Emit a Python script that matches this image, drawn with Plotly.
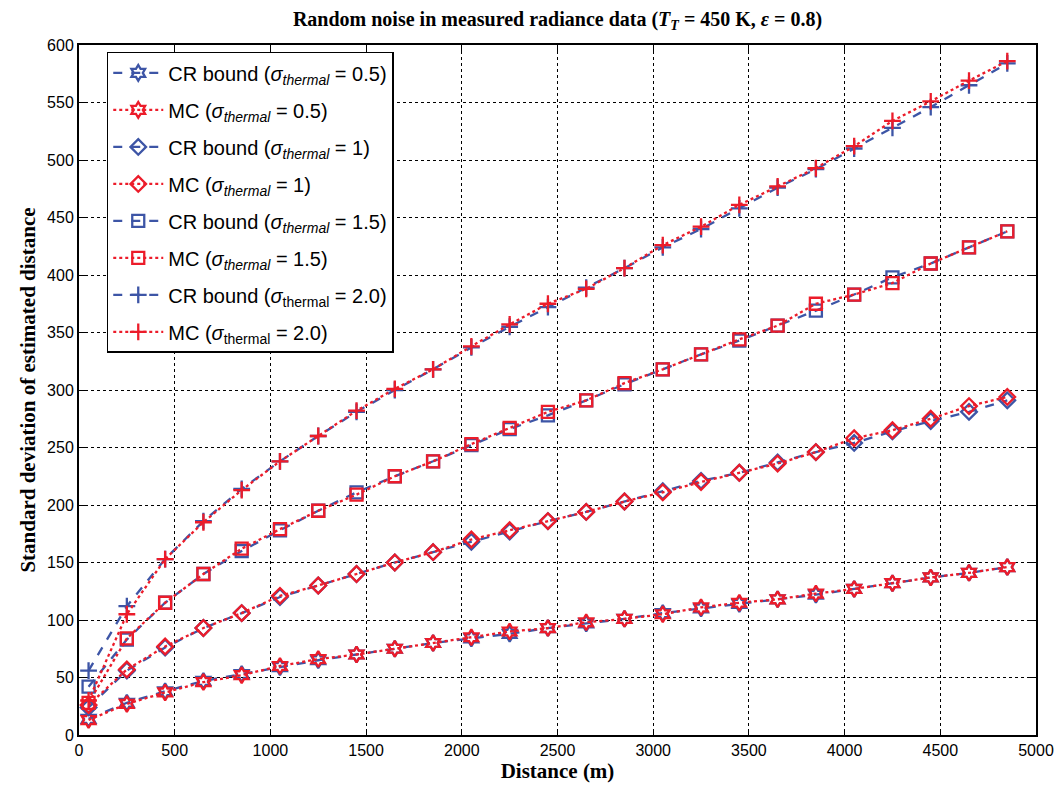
import plotly.graph_objects as go

distance = [50, 250, 450, 650, 850, 1050, 1250, 1450, 1650, 1850, 2050, 2250, 2450,
            2650, 2850, 3050, 3250, 3450, 3650, 3850, 4050, 4250, 4450, 4650, 4850]

cr_05 = [14, 28, 38, 47, 53, 59, 65, 70, 75, 80, 84, 88, 93, 97, 101, 106, 110, 114, 118, 122, 127, 132, 137, 141, 146]
mc_05 = [13, 27, 37, 46, 52, 60, 66, 70, 75, 80, 85, 90, 93, 98, 101, 105, 111, 115, 118, 123, 127, 132, 137, 141, 146]

cr_1 = [24, 56, 76, 93, 106, 120, 130, 140, 150, 159, 168, 177, 186, 194, 203, 212, 221, 228, 237, 246, 254, 264, 273, 281, 291]
mc_1 = [26, 57, 77, 93, 106, 121, 130, 140, 150, 159, 170, 178, 186, 194, 203, 211, 220, 228, 236, 246, 258, 265, 275, 286, 294]

cr_15 = [42, 83, 115, 140, 160, 178, 195, 211, 225, 238, 252, 266, 278, 291, 305, 318, 331, 343, 356, 369, 383, 398, 410, 424, 438]
mc_15 = [28, 84, 115, 140, 162, 179, 195, 209, 225, 238, 253, 267, 281, 291, 306, 318, 331, 344, 356, 375, 383, 393, 410, 424, 438]

cr_2 = [56, 112, 153, 186, 214, 238, 260, 281, 300, 318, 337, 355, 372, 389, 406, 424, 440, 458, 476, 492, 510, 528, 546, 565, 584]
mc_2 = [30, 105, 153, 185, 213, 238, 260, 282, 301, 318, 338, 357, 375, 388, 406, 426, 442, 461, 477, 493, 512, 534, 551, 569, 586]

x_ticks = [0, 500, 1000, 1500, 2000, 2500, 3000, 3500, 4000, 4500, 5000]
y_ticks = [0, 50, 100, 150, 200, 250, 300, 350, 400, 450, 500, 550, 600]

BLUE = "#3d55a6"
RED = "#ec1c2a"

series = [
    ("CR bound (<i>σ</i><sub><i>thermal</i></sub> = 0.5)", cr_05, BLUE, "dash", "hexagram-open"),
    ("MC (<i>σ</i><sub><i>thermal</i></sub> = 0.5)", mc_05, RED, "dot", "hexagram-open"),
    ("CR bound (<i>σ</i><sub><i>thermal</i></sub> = 1)", cr_1, BLUE, "dash", "diamond-open"),
    ("MC (<i>σ</i><sub><i>thermal</i></sub> = 1)", mc_1, RED, "dot", "diamond-open"),
    ("CR bound (<i>σ</i><sub><i>thermal</i></sub> = 1.5)", cr_15, BLUE, "dash", "square-open"),
    ("MC (<i>σ</i><sub><i>thermal</i></sub> = 1.5)", mc_15, RED, "dot", "square-open"),
    ("CR bound (<i>σ</i><sub>thermal</sub> = 2.0)", cr_2, BLUE, "dash", "cross-thin-open"),
    ("MC (<i>σ</i><sub>thermal</sub> = 2.0)", mc_2, RED, "dot", "cross-thin-open"),
]

fig = go.Figure()
for i, (name, vals, color, dash, sym) in enumerate(series):
    fig.add_trace(go.Scatter(
        x=distance, y=vals, name=name, mode="lines+markers",
        legendgroup=f"g{i}",
        line=dict(color=color, width=2.3, dash=dash),
        marker=dict(symbol=sym, size=12, color=color, line=dict(color=color, width=2.3)),
    ))

axis_common = dict(
    showline=True, linecolor="black", linewidth=2, mirror="ticks",
    ticks="inside", ticklen=6, tickwidth=1, tickcolor="black",
    showgrid=True, gridcolor="black", gridwidth=1, griddash="dot",
    zeroline=False, automargin=False,
    tickfont=dict(family="Liberation Sans, Arial, sans-serif", size=16, color="black"),
)

TITLE_FONT = "Liberation Serif, Times New Roman, serif"

fig.update_xaxes(range=[0, 5000], tickvals=x_ticks, ticktext=[str(v) for v in x_ticks],
                 title=dict(text="<b>Distance (m)</b>", standoff=3,
                            font=dict(family=TITLE_FONT, size=21, color="black")),
                 **axis_common)
fig.update_yaxes(range=[0, 600], tickvals=y_ticks, ticktext=[str(v) for v in y_ticks],
                 title=dict(text="<b>Standard deviation of estimated distance</b>", standoff=6,
                            font=dict(family=TITLE_FONT, size=21, color="black")),
                 **axis_common)

fig.update_layout(
    width=1059, height=795,
    margin=dict(l=79, r=23, t=45, b=60),
    paper_bgcolor="white", plot_bgcolor="white",
    title=dict(text="<b>Random noise in measured radiance data (<i>T</i><sub><i>T</i></sub> = 450 K, <i>ε</i> = 0.8)</b>",
               x=0.5, xanchor="center", xref="paper", y=0.976, yanchor="middle",
               font=dict(family=TITLE_FONT, size=20, color="black")),
    legend=dict(x=0.029, y=0.99, xanchor="left", yanchor="top",
                bgcolor="white", bordercolor="black", borderwidth=1.5,
                font=dict(family="Liberation Sans, Arial, sans-serif", size=20, color="black"),
                tracegroupgap=8, itemwidth=50),
    showlegend=True,
)

fig.write_html("out.html",
               config={"displayModeBar": False},
               post_script="document.body.style.margin='0px';document.body.style.overflow='hidden';")
